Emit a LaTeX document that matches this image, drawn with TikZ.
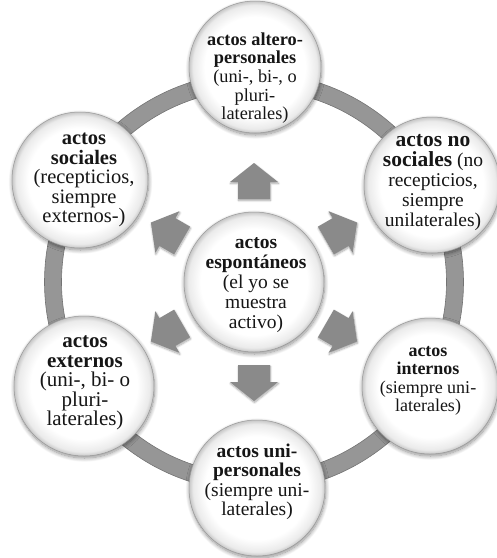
\documentclass[tikz,border=0pt]{standalone}
\usepackage{fontspec}
\setmainfont{Liberation Serif}
\usetikzlibrary{shadows.blur,calc}

\definecolor{ringgray}{RGB}{150,150,150}
\definecolor{ringedge}{RGB}{115,115,115}
\definecolor{arrowgray}{RGB}{138,138,138}
\definecolor{inkc}{RGB}{22,22,22}

% white disc with a faint grey rim
\pgfdeclareradialshading{discshade}{\pgfpoint{0bp}{0bp}}{%
  color(0bp)=(white); color(19bp)=(white); color(23.5bp)=(black!8);
  color(25bp)=(black!22); color(50bp)=(black!22)}

\tikzset{
  bubble/.style={circle, inner sep=0pt, minimum size=#1, draw=black!40,
    line width=0.5pt, shade, shading=discshade,
    blur shadow={shadow xshift=0.6pt, shadow yshift=-2pt,
      shadow blur radius=4pt, shadow opacity=45, shadow blur steps=12}},
  label text/.style={align=center, inner sep=0pt, text=inkc},
  blockarrow/.style={fill=arrowgray,
    blur shadow={shadow xshift=0.5pt, shadow yshift=-1.5pt,
      shadow blur radius=2pt, shadow opacity=35, shadow blur steps=8}},
}

\begin{document}
\begin{tikzpicture}[x=1pt, y=-1pt]
\useasboundingbox (0,0) rectangle (497,558);

% centre and ring
\coordinate (c) at (254,282);
\draw[line width=17pt, ringgray] (c) circle[radius=201pt];
\draw[line width=0.6pt, ringedge] (c) circle[radius=209.5pt];
\draw[line width=0.6pt, ringedge] (c) circle[radius=192.5pt];

% outward block arrows
\foreach \a in {90,30,150,210,330,270}{
  \begin{scope}[shift={(c)}, rotate=\a]
    \fill[blockarrow] (83pt,-16pt) -- (100pt,-16pt) -- (100pt,-24pt)
      -- (119pt,0pt) -- (100pt,24pt) -- (100pt,16pt) -- (83pt,16pt) -- cycle;
  \end{scope}
}

% discs
\node[bubble=140pt] (mid) at (c) {};
\node[bubble=132pt] (top) at (255,67) {};
\node[bubble=136pt] (lt)  at (80,180) {};
\node[bubble=136pt] (rt)  at (432,185) {};
\node[bubble=140pt] (lb)  at (84,386) {};
\node[bubble=136pt] (rb)  at (430,386) {};
\node[bubble=136pt] (bot) at (257,488) {};

% texts
\node[label text, font=\fontsize{19.5}{20}\selectfont] (tmid) at (256,285)
  {\textbf{actos}\\\textbf{espontáneos}\\(el yo se\\muestra\\activo)};
\node[label text, font=\fontsize{18.3}{18.6}\selectfont] (ttop) at (255,78)
  {\textbf{actos altero-}\\\textbf{personales}\\(uni-, bi-, o\\pluri-\\laterales)};
\node[label text, font=\fontsize{20.5}{19.5}\selectfont] (tlt) at (84,180)
  {\textbf{actos}\\\textbf{sociales}\\(recepticios,\\siempre\\externos-)};
\node[label text, font=\fontsize{19.5}{20}\selectfont] (trt) at (433,183)
  {{\fontsize{21.5}{21}\selectfont\bfseries actos no}\\{\fontsize{21.5}{21}\selectfont\bfseries sociales} (no\\recepticios,\\siempre\\unilaterales)};
\node[label text, font=\fontsize{21}{19.5}\selectfont] (tlb) at (85,383)
  {\textbf{actos}\\\textbf{externos}\\(uni-, bi- o\\pluri-\\laterales)};
\node[label text, font=\fontsize{18}{18.5}\selectfont] (trb) at (428,381)
  {\textbf{actos}\\\textbf{internos}\\(siempre uni-\\laterales)};
\node[label text, font=\fontsize{19.5}{19.5}\selectfont] (tbot) at (257,482)
  {\textbf{actos uni-}\\\textbf{personales}\\(siempre uni-\\laterales)};
\end{tikzpicture}
\end{document}
